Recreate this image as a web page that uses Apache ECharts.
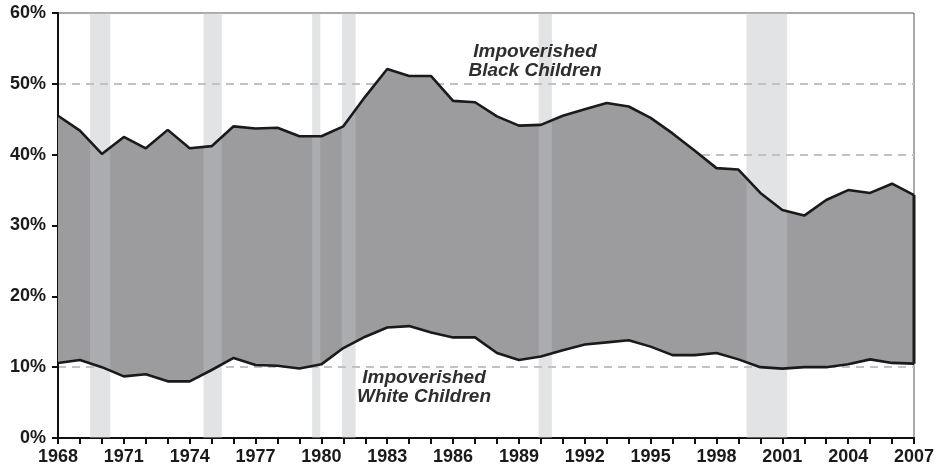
<!DOCTYPE html>
<html>
<head>
<meta charset="utf-8">
<script src="https://cdn.jsdelivr.net/npm/echarts@6/dist/echarts.min.js"></script>
<style>
html,body{margin:0;padding:0;background:#fff;}
#chart{width:938px;height:473px;}
</style>
</head>
<body>
<div id="chart"></div>
<script>
// ---- data ----
var years = [1968,1969,1970,1971,1972,1973,1974,1975,1976,1977,1978,1979,1980,1981,1982,1983,1984,1985,1986,1987,1988,1989,1990,1991,1992,1993,1994,1995,1996,1997,1998,1999,2000,2001,2002,2003,2004,2005,2006,2007];
var blackChildren = [45.5,43.4,40.1,42.5,40.9,43.5,40.9,41.2,44.0,43.7,43.8,42.6,42.6,44.0,48.2,52.1,51.1,51.1,47.6,47.4,45.4,44.1,44.2,45.5,46.4,47.3,46.8,45.2,43.0,40.6,38.1,37.9,34.6,32.2,31.4,33.6,35.0,34.6,35.9,34.3];
var whiteChildren = [10.6,11.0,10.0,8.7,9.0,8.0,8.0,9.6,11.3,10.3,10.2,9.8,10.4,12.7,14.3,15.6,15.8,14.9,14.2,14.2,12.0,11.0,11.5,12.4,13.2,13.5,13.8,12.9,11.7,11.7,12.0,11.1,10.0,9.8,10.0,10.0,10.4,11.1,10.6,10.5];
var recessions = [[1969.46,1970.38],[1974.63,1975.46],[1979.58,1979.95],[1980.93,1981.56],[1989.9,1990.5],[1999.37,2001.22]];
var yTicks = [0,10,20,30,40,50,60];
var labelYears = [1968,1971,1974,1977,1980,1983,1986,1989,1992,1995,1998,2001,2004,2007];
var labelBlack = ['Impoverished','Black Children'];
var labelWhite = ['Impoverished','White Children'];

// ---- build ----
var bandData = years.map(function(y,i){return [y, blackChildren[i], whiteChildren[i]];});
var blackPts = years.map(function(y,i){return [y, blackChildren[i]];});
var whitePts = years.map(function(y,i){return [y, whiteChildren[i]];});
var FONT = '"Liberation Sans", Arial, Helvetica, sans-serif';

function renderGap(params, api){
  if (params.dataIndex !== 0) return null;
  var top = [], bottom = [];
  for (var i = 0; i < years.length; i++){
    top.push(api.coord([years[i], blackChildren[i]]));
    bottom.push(api.coord([years[i], whiteChildren[i]]));
  }
  var pts = top.concat(bottom.reverse());
  return {type:'polygon', shape:{points:pts}, style:{fill:'#9c9c9e', stroke:null}};
}

var last = years.length - 1;
var edgePts = [[years[last], whiteChildren[last]], [years[last], blackChildren[last]]];

var chart = echarts.init(document.getElementById('chart'), null, {renderer:'canvas'});
chart.setOption({
  animation:false,
  backgroundColor:'#ffffff',
  grid:{left:58,right:24,top:13,bottom:35,show:true,borderColor:'#555',borderWidth:1,backgroundColor:'transparent'},
  xAxis:{
    type:'value', min:1968, max:2007, interval:1,
    axisLine:{show:true,onZero:false,lineStyle:{color:'#111',width:2}},
    axisTick:{show:true,length:6,lineStyle:{color:'#111',width:2}},
    splitLine:{show:false},
    axisLabel:{
      margin:10, color:'#1a1a1a', fontFamily:FONT, fontWeight:'bold', fontSize:18,
      formatter:function(v){return labelYears.indexOf(v)>=0 ? String(v) : '';}
    }
  },
  yAxis:{
    type:'value', min:yTicks[0], max:yTicks[yTicks.length-1], interval:10,
    axisLine:{show:true,onZero:false,lineStyle:{color:'#111',width:2}},
    axisTick:{show:true,length:6,lineStyle:{color:'#111',width:2}},
    splitLine:{show:true,showMinLine:false,showMaxLine:false,lineStyle:{color:'#c2c2c4',width:2,type:[8,6]}},
    axisLabel:{margin:12,color:'#1a1a1a',fontFamily:FONT,fontWeight:'bold',fontSize:18,formatter:'{value}%'}
  },
  series:[
    {type:'custom',name:'gap',data:bandData,renderItem:renderGap,z:2,silent:true,clip:true,
     encode:{x:0,y:[1,2]}},
    {type:'line',name:'recessions',data:[],z:3,silent:true,
     markArea:{silent:true,z:3,itemStyle:{color:'rgba(190,192,196,0.45)'},
       data:recessions.map(function(r){return [{xAxis:r[0]},{xAxis:r[1]}];})}},
    {type:'line',name:'edge',data:edgePts,symbol:'none',lineStyle:{color:'#1a1a1a',width:3},z:4,silent:true},
    {type:'line',name:'Impoverished Black Children',data:blackPts,symbol:'none',
     lineStyle:{color:'#1a1a1a',width:2.6},z:4},
    {type:'line',name:'Impoverished White Children',data:whitePts,symbol:'none',
     lineStyle:{color:'#1a1a1a',width:2.6},z:4}
  ],
  graphic:[
    {type:'text',x:535,y:61,z:10,style:{text:labelBlack[0]+'\n'+labelBlack[1],align:'center',verticalAlign:'middle',
      font:'italic bold 19px '+FONT,fill:'#2e2e2e',lineHeight:19}},
    {type:'text',x:424,y:387,z:10,style:{text:labelWhite[0]+'\n'+labelWhite[1],align:'center',verticalAlign:'middle',
      font:'italic bold 19px '+FONT,fill:'#2e2e2e',lineHeight:19}}
  ]
});
</script>
</body>
</html>
